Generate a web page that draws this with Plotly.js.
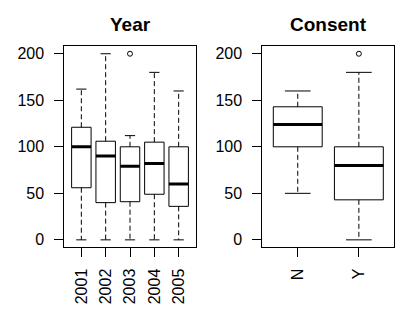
<!DOCTYPE html>
<html><head><meta charset="utf-8">
<script src="https://cdn.plot.ly/plotly-3.0.1.min.js"></script>
<style>html,body{margin:0;padding:0;background:#fff}#chart{width:396px;height:330px}</style>
</head><body><div id="chart"></div><script>
// Panel 1: by Year
const yearLabels = ['2001','2002','2003','2004','2005'];
const yearMin = [0,0,0,0,0];
const yearQ1 = [56,40,41,49,36];
const yearMedian = [100,90,79,82,60];
const yearQ3 = [121,106,100,105,100];
const yearMax = [162,200,112,180,160];
const yearOutliers = [[],[],[200],[],[]];

// Panel 2: by Consent
const consentLabels = ['N','Y'];
const consentMin = [50,0];
const consentQ1 = [100,43];
const consentMedian = [124,80];
const consentQ3 = [143,100];
const consentMax = [160,180];
const consentOutliers = [[],[200]];

const yTicks = [0,50,100,150,200];

function buildTraces(mins,q1,med,q3,maxs,outs,xa,ya){
  const hw = 0.4, sw = 0.21;
  const bx=[],by=[],mx=[],my=[],wx=[],wy=[],cx=[],cy=[],ox=[],oy=[];
  for(let i=0;i<mins.length;i++){
    const p=i+1;
    bx.push(p-hw,p+hw,p+hw,p-hw,p-hw,null); by.push(q1[i],q1[i],q3[i],q3[i],q1[i],null);
    mx.push(p-hw,p+hw,null); my.push(med[i],med[i],null);
    wx.push(p,p,null,p,p,null); wy.push(q3[i],maxs[i],null,q1[i],mins[i],null);
    cx.push(p-sw,p+sw,null,p-sw,p+sw,null); cy.push(maxs[i],maxs[i],null,mins[i],mins[i],null);
    outs[i].forEach(v=>{ox.push(p);oy.push(v);});
  }
  const base={xaxis:xa,yaxis:ya,type:'scatter',hoverinfo:'skip',showlegend:false,cliponaxis:false};
  return [
    Object.assign({},base,{x:wx,y:wy,mode:'lines',line:{color:'black',width:1,dash:'5px,3px'}}),
    Object.assign({},base,{x:cx,y:cy,mode:'lines',line:{color:'black',width:1}}),
    Object.assign({},base,{x:bx,y:by,mode:'lines',line:{color:'black',width:1}}),
    Object.assign({},base,{x:mx,y:my,mode:'lines',line:{color:'black',width:3}}),
    Object.assign({},base,{x:ox,y:oy,mode:'markers',marker:{symbol:'circle-open',size:5,color:'black',line:{width:1,color:'black'}}})
  ];
}

const data = [].concat(
  buildTraces(yearMin,yearQ1,yearMedian,yearQ3,yearMax,yearOutliers,'x','y'),
  buildTraces(consentMin,consentQ1,consentMedian,consentQ3,consentMax,consentOutliers,'x2','y2')
);

const font = {family:'"Liberation Sans", Arial, sans-serif', size:16, color:'black'};
function yax(anchor){
  return {anchor:anchor, domain:[0.2506,0.8597], range:[-8,208], tickvals:yTicks, ticktext:yTicks.map(String),
    ticks:'outside', ticklen:9, tickcolor:'black', tickwidth:1, showline:true, mirror:true, linecolor:'black', linewidth:1,
    showgrid:false, zeroline:false, tickfont:font, tickangle:0, ticklabelstandoff:7};
}
function xax(anchor,dom,labels){
  const n=labels.length, ext=0.04*n;
  const vals=labels.map((l,i)=>i+1);
  return {anchor:anchor, domain:dom, range:[0.5-ext,n+0.5+ext], tickvals:vals, ticktext:labels,
    ticks:'outside', ticklen:9, tickcolor:'black', tickwidth:1, showline:true, mirror:true, linecolor:'black', linewidth:1,
    showgrid:false, zeroline:false, tickfont:font, tickangle:-90, ticklabelstandoff:5};
}

const layout = {
  width:396, height:330, margin:{l:0,r:0,t:0,b:0}, paper_bgcolor:'white', plot_bgcolor:'white',
  font:font, showlegend:false,
  xaxis: xax('y',[0.1624,0.4942],yearLabels),
  yaxis: yax('x'),
  xaxis2: xax('y2',[0.6624,0.9957],consentLabels),
  yaxis2: yax('x2'),
  annotations:[
    {text:'<b>Year</b>', xref:'paper', yref:'paper', x:(0.1624+0.4942)/2, y:0.925, xanchor:'center', yanchor:'middle', showarrow:false, font:{family:font.family,size:19,color:'black'}},
    {text:'<b>Consent</b>', xref:'paper', yref:'paper', x:(0.6624+0.9957)/2, y:0.925, xanchor:'center', yanchor:'middle', showarrow:false, font:{family:font.family,size:19,color:'black'}}
  ]
};

Plotly.newPlot('chart', data, layout, {staticPlot:true, displayModeBar:false});
</script></body></html>
